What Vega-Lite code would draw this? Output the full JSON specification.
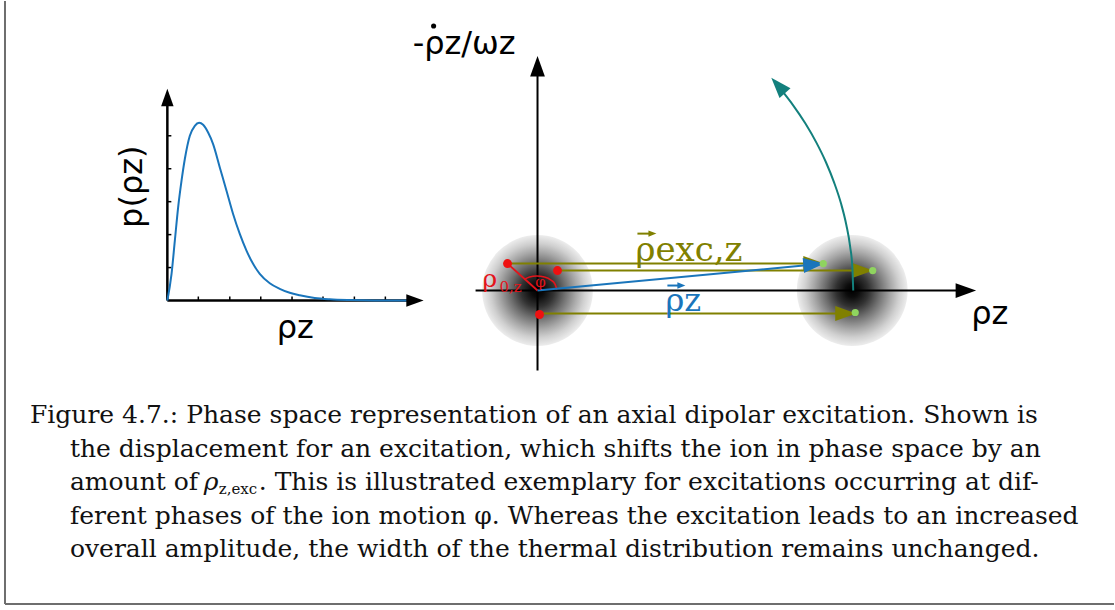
{
  "$schema": "https://vega.github.io/schema/vega-lite/v6.json",
  "width": 1115,
  "height": 610,
  "padding": 0,
  "autosize": {"type": "fit", "contains": "padding"},
  "background": "white",
  "config": {"view": {"stroke": null}},
  "datasets": {
    "segments": [
      {"kind": "frame", "x": 5, "y": 0, "x2": 5, "y2": 604},
      {"kind": "frame", "x": 5, "y": 604, "x2": 1115, "y2": 604},
      {"kind": "axisL", "x": 167.5, "y": 300, "x2": 167.5, "y2": 102},
      {"kind": "axisL", "x": 167.5, "y": 300, "x2": 410, "y2": 300},
      {"kind": "axisR", "x": 538, "y": 370, "x2": 538, "y2": 72},
      {"kind": "axisR", "x": 476, "y": 290, "x2": 960, "y2": 290},
      {"kind": "tick", "x": 167.5, "y": 135, "x2": 171.5, "y2": 135},
      {"kind": "tick", "x": 167.5, "y": 168, "x2": 171.5, "y2": 168},
      {"kind": "tick", "x": 167.5, "y": 201, "x2": 171.5, "y2": 201},
      {"kind": "tick", "x": 167.5, "y": 234, "x2": 171.5, "y2": 234},
      {"kind": "tick", "x": 167.5, "y": 267, "x2": 171.5, "y2": 267},
      {"kind": "tick", "x": 198.5, "y": 296, "x2": 198.5, "y2": 300},
      {"kind": "tick", "x": 230, "y": 296, "x2": 230, "y2": 300},
      {"kind": "tick", "x": 261, "y": 296, "x2": 261, "y2": 300},
      {"kind": "tick", "x": 292.3, "y": 296, "x2": 292.3, "y2": 300},
      {"kind": "tick", "x": 323.3, "y": 296, "x2": 323.3, "y2": 300},
      {"kind": "tick", "x": 354.7, "y": 296, "x2": 354.7, "y2": 300},
      {"kind": "tick", "x": 385.7, "y": 296, "x2": 385.7, "y2": 300},
      {"kind": "olive", "x": 508, "y": 263, "x2": 812, "y2": 263},
      {"kind": "olive", "x": 558, "y": 270, "x2": 862, "y2": 270},
      {"kind": "olive", "x": 540, "y": 313, "x2": 845, "y2": 313},
      {"kind": "oliveVec", "x": 638, "y": 233, "x2": 652, "y2": 233},
      {"kind": "blue", "x": 538, "y": 290, "x2": 812, "y2": 264.3},
      {"kind": "blueVec", "x": 668, "y": 285, "x2": 681, "y2": 285},
      {"kind": "red", "x": 538, "y": 290, "x2": 508, "y2": 263}
    ],
    "heads": [
      {"kind": "axisL", "x": 167.5, "y": 88, "heading": 0},
      {"kind": "axisL", "x": 424, "y": 300, "heading": 90},
      {"kind": "axisR", "x": 538, "y": 55, "heading": 0},
      {"kind": "axisR", "x": 977, "y": 290, "heading": 90},
      {"kind": "olive", "x": 825, "y": 263, "heading": 90},
      {"kind": "olive", "x": 874, "y": 270, "heading": 90},
      {"kind": "olive", "x": 857, "y": 313, "heading": 90},
      {"kind": "oliveVec", "x": 657, "y": 233, "heading": 90},
      {"kind": "blue", "x": 825, "y": 263, "heading": 84.6},
      {"kind": "blueVec", "x": 686, "y": 285, "heading": 90},
      {"kind": "teal", "x": 772, "y": 77, "heading": -42}
    ],
    "curve": [
      {"x": 167.5, "y": 300}, {"x": 171.7, "y": 273.3}, {"x": 175, "y": 240},
      {"x": 178.3, "y": 206.7}, {"x": 181.7, "y": 180}, {"x": 185, "y": 158.3},
      {"x": 190, "y": 135}, {"x": 195, "y": 125}, {"x": 199.3, "y": 122},
      {"x": 203.3, "y": 124}, {"x": 208.3, "y": 131.7}, {"x": 213.3, "y": 143.3},
      {"x": 220, "y": 166.7}, {"x": 226.7, "y": 190}, {"x": 233.3, "y": 213.3},
      {"x": 240, "y": 233.3}, {"x": 246.7, "y": 250}, {"x": 253.3, "y": 263.3},
      {"x": 260, "y": 273.3}, {"x": 270, "y": 282.7}, {"x": 280, "y": 288.3},
      {"x": 290, "y": 292.3}, {"x": 300, "y": 294.8}, {"x": 315, "y": 297.5},
      {"x": 330, "y": 298.8}, {"x": 350, "y": 299.6}, {"x": 375, "y": 300},
      {"x": 408, "y": 300}
    ],
    "arcs": [
      {"kind": "teal", "i": 0, "x": 854, "y": 290},
      {"kind": "teal", "i": 1, "x": 853.2, "y": 268},
      {"kind": "teal", "i": 2, "x": 850.9, "y": 246},
      {"kind": "teal", "i": 3, "x": 847.1, "y": 224.3},
      {"kind": "teal", "i": 4, "x": 841.8, "y": 202.9},
      {"kind": "teal", "i": 5, "x": 834.9, "y": 181.9},
      {"kind": "teal", "i": 6, "x": 826.7, "y": 161.5},
      {"kind": "teal", "i": 7, "x": 817, "y": 141.6},
      {"kind": "teal", "i": 8, "x": 806, "y": 122.5},
      {"kind": "teal", "i": 9, "x": 793.7, "y": 104.3},
      {"kind": "teal", "i": 10, "x": 783.6, "y": 91.1},
      {"kind": "phi", "i": 0, "x": 524.5, "y": 279},
      {"kind": "phi", "i": 1, "x": 530, "y": 276.5},
      {"kind": "phi", "i": 2, "x": 537, "y": 275.5},
      {"kind": "phi", "i": 3, "x": 545, "y": 276.5},
      {"kind": "phi", "i": 4, "x": 551.5, "y": 279.5},
      {"kind": "phi", "i": 5, "x": 555.5, "y": 283.5},
      {"kind": "phi", "i": 6, "x": 557.5, "y": 289}
    ],
    "blobs": [{"x": 538, "y": 290}, {"x": 853, "y": 290}],
    "dots": [
      {"kind": "start", "x": 508, "y": 263},
      {"kind": "start", "x": 558, "y": 270},
      {"kind": "start", "x": 540, "y": 314},
      {"kind": "end", "x": 824, "y": 263},
      {"kind": "end", "x": 873.5, "y": 270},
      {"kind": "end", "x": 856, "y": 312},
      {"kind": "dotAbove", "x": 434, "y": 25}
    ],
    "labels": [
      {"kind": "black", "x": 413, "y": 53, "text": "-ρz/ωz"},
      {"kind": "black", "x": 277, "y": 338, "text": "ρz"},
      {"kind": "black", "x": 972, "y": 324, "text": "ρz"},
      {"kind": "rotated", "x": 142, "y": 186, "text": "p(ρz)"},
      {"kind": "olive", "x": 636, "y": 260, "text": "ρexc,z"},
      {"kind": "blue", "x": 666, "y": 311, "text": "ρz"},
      {"kind": "red", "x": 483, "y": 286, "text": "ρ"},
      {"kind": "redSub", "x": 500, "y": 291, "text": "0,z"},
      {"kind": "redPhi", "x": 541, "y": 286, "text": "φ"}
    ],
    "caption": [
      {"kind": "roman", "x": 30, "y": 423, "text": "Figure 4.7.: Phase space representation of an axial dipolar excitation.  Shown is"},
      {"kind": "roman", "x": 70, "y": 456.5, "text": "the displacement for an excitation, which shifts the ion in phase space by an"},
      {"kind": "roman", "x": 70, "y": 490, "text": "amount of"},
      {"kind": "italic", "x": 204, "y": 490, "text": "ρ"},
      {"kind": "sub", "x": 219, "y": 494, "text": "z,exc"},
      {"kind": "roman", "x": 259, "y": 490, "text": ". This is illustrated exemplary for excitations occurring at dif-"},
      {"kind": "roman", "x": 70, "y": 523.5, "text": "ferent phases of the ion motion φ. Whereas the excitation leads to an increased"},
      {"kind": "roman", "x": 70, "y": 557, "text": "overall amplitude, the width of the thermal distribution remains unchanged."}
    ]
  },
  "encoding": {
    "x": {"field": "x", "type": "quantitative", "axis": null,
          "scale": {"domain": [0, 1115], "nice": false, "zero": false}},
    "y": {"field": "y", "type": "quantitative", "axis": null,
          "scale": {"domain": [0, 610], "nice": false, "zero": false, "reverse": true}}
  },
  "layer": [
    {
      "data": {"name": "blobs"},
      "mark": {
        "type": "point", "shape": "circle", "size": 12272, "filled": true, "opacity": 1, "strokeWidth": 0,
        "fill": {
          "gradient": "radial", "x1": 0.5, "y1": 0.5, "r1": 0, "x2": 0.5, "y2": 0.5, "r2": 0.5,
          "stops": [
            {"offset": 0, "color": "#000000"},
            {"offset": 0.12, "color": "#0c0c0c"},
            {"offset": 0.3, "color": "#333333"},
            {"offset": 0.5, "color": "#707070"},
            {"offset": 0.7, "color": "#a9a9a9"},
            {"offset": 0.85, "color": "#d0d0d0"},
            {"offset": 1, "color": "#ededed"}
          ]
        }
      }
    },
    {
      "data": {"name": "segments"},
      "transform": [{"filter": "datum.kind === 'frame'"}],
      "mark": {"type": "rule", "color": "#6e6e6e", "strokeWidth": 2},
      "encoding": {"x2": {"field": "x2"}, "y2": {"field": "y2"}}
    },
    {
      "data": {"name": "segments"},
      "transform": [{"filter": "datum.kind === 'axisL'"}],
      "mark": {"type": "rule", "color": "#000000", "strokeWidth": 2.5},
      "encoding": {"x2": {"field": "x2"}, "y2": {"field": "y2"}}
    },
    {
      "data": {"name": "segments"},
      "transform": [{"filter": "datum.kind === 'tick'"}],
      "mark": {"type": "rule", "color": "#000000", "strokeWidth": 1.5},
      "encoding": {"x2": {"field": "x2"}, "y2": {"field": "y2"}}
    },
    {
      "data": {"name": "segments"},
      "transform": [{"filter": "datum.kind === 'axisR'"}],
      "mark": {"type": "rule", "color": "#000000", "strokeWidth": 2},
      "encoding": {"x2": {"field": "x2"}, "y2": {"field": "y2"}}
    },
    {
      "data": {"name": "curve"},
      "mark": {"type": "line", "color": "#1a75bb", "strokeWidth": 2, "interpolate": "monotone"},
      "encoding": {}
    },
    {
      "data": {"name": "heads"},
      "transform": [{"filter": "datum.kind === 'axisL'"}],
      "mark": {"type": "point", "shape": "M0,0L0.72,2L-0.72,2Z", "size": 300, "filled": true, "opacity": 1, "color": "#000000", "strokeWidth": 0},
      "encoding": {"angle": {"field": "heading", "type": "quantitative", "scale": null}}
    },
    {
      "data": {"name": "heads"},
      "transform": [{"filter": "datum.kind === 'axisR'"}],
      "mark": {"type": "point", "shape": "M0,0L0.72,2L-0.72,2Z", "size": 420, "filled": true, "opacity": 1, "color": "#000000", "strokeWidth": 0},
      "encoding": {"angle": {"field": "heading", "type": "quantitative", "scale": null}}
    },
    {
      "data": {"name": "segments"},
      "transform": [{"filter": "datum.kind === 'red'"}],
      "mark": {"type": "rule", "color": "#e3141b", "strokeWidth": 1.8},
      "encoding": {"x2": {"field": "x2"}, "y2": {"field": "y2"}}
    },
    {
      "data": {"name": "arcs"},
      "transform": [{"filter": "datum.kind === 'phi'"}],
      "mark": {"type": "line", "color": "#e3141b", "strokeWidth": 1.6, "interpolate": "monotone"},
      "encoding": {"order": {"field": "i", "type": "quantitative"}}
    },
    {
      "data": {"name": "segments"},
      "transform": [{"filter": "datum.kind === 'olive' || datum.kind === 'oliveVec'"}],
      "mark": {"type": "rule", "color": "#808000", "strokeWidth": 2},
      "encoding": {"x2": {"field": "x2"}, "y2": {"field": "y2"}}
    },
    {
      "data": {"name": "heads"},
      "transform": [{"filter": "datum.kind === 'olive'"}],
      "mark": {"type": "point", "shape": "M0,0L0.72,2L-0.72,2Z", "size": 440, "filled": true, "opacity": 1, "color": "#808000", "strokeWidth": 0},
      "encoding": {"angle": {"field": "heading", "type": "quantitative", "scale": null}}
    },
    {
      "data": {"name": "heads"},
      "transform": [{"filter": "datum.kind === 'oliveVec'"}],
      "mark": {"type": "point", "shape": "M0,0L0.8,2L-0.8,2Z", "size": 64, "filled": true, "opacity": 1, "color": "#808000", "strokeWidth": 0},
      "encoding": {"angle": {"field": "heading", "type": "quantitative", "scale": null}}
    },
    {
      "data": {"name": "segments"},
      "transform": [{"filter": "datum.kind === 'blue' || datum.kind === 'blueVec'"}],
      "mark": {"type": "rule", "color": "#1a75bb", "strokeWidth": 2},
      "encoding": {"x2": {"field": "x2"}, "y2": {"field": "y2"}}
    },
    {
      "data": {"name": "heads"},
      "transform": [{"filter": "datum.kind === 'blue'"}],
      "mark": {"type": "point", "shape": "M0,0L0.72,2L-0.72,2Z", "size": 440, "filled": true, "opacity": 1, "color": "#1a75bb", "strokeWidth": 0},
      "encoding": {"angle": {"field": "heading", "type": "quantitative", "scale": null}}
    },
    {
      "data": {"name": "heads"},
      "transform": [{"filter": "datum.kind === 'blueVec'"}],
      "mark": {"type": "point", "shape": "M0,0L0.8,2L-0.8,2Z", "size": 64, "filled": true, "opacity": 1, "color": "#1a75bb", "strokeWidth": 0},
      "encoding": {"angle": {"field": "heading", "type": "quantitative", "scale": null}}
    },
    {
      "data": {"name": "arcs"},
      "transform": [{"filter": "datum.kind === 'teal'"}],
      "mark": {"type": "line", "color": "#13807d", "strokeWidth": 2, "interpolate": "monotone"},
      "encoding": {"order": {"field": "i", "type": "quantitative"}}
    },
    {
      "data": {"name": "heads"},
      "transform": [{"filter": "datum.kind === 'teal'"}],
      "mark": {"type": "point", "shape": "M0,0L0.72,2L-0.72,2Z", "size": 420, "filled": true, "opacity": 1, "color": "#13807d", "strokeWidth": 0},
      "encoding": {"angle": {"field": "heading", "type": "quantitative", "scale": null}}
    },
    {
      "data": {"name": "dots"},
      "transform": [{"filter": "datum.kind === 'start'"}],
      "mark": {"type": "point", "shape": "circle", "size": 80, "filled": true, "opacity": 1, "color": "#ee1111", "strokeWidth": 0}
    },
    {
      "data": {"name": "dots"},
      "transform": [{"filter": "datum.kind === 'end'"}],
      "mark": {"type": "point", "shape": "circle", "size": 52, "filled": true, "opacity": 1, "color": "#8fd45f", "strokeWidth": 0}
    },
    {
      "data": {"name": "dots"},
      "transform": [{"filter": "datum.kind === 'dotAbove'"}],
      "mark": {"type": "point", "shape": "circle", "size": 26, "filled": true, "opacity": 1, "color": "#000000", "strokeWidth": 0}
    },
    {
      "data": {"name": "labels"},
      "transform": [{"filter": "datum.kind === 'black'"}],
      "mark": {"type": "text", "font": "DejaVu Sans", "fontSize": 32, "align": "left", "baseline": "alphabetic", "color": "#000000"},
      "encoding": {"text": {"field": "text", "type": "nominal"}}
    },
    {
      "data": {"name": "labels"},
      "transform": [{"filter": "datum.kind === 'rotated'"}],
      "mark": {"type": "text", "font": "DejaVu Sans", "fontSize": 32, "align": "center", "baseline": "alphabetic", "angle": 270, "color": "#000000"},
      "encoding": {"text": {"field": "text", "type": "nominal"}}
    },
    {
      "data": {"name": "labels"},
      "transform": [{"filter": "datum.kind === 'olive'"}],
      "mark": {"type": "text", "font": "DejaVu Serif", "fontSize": 34, "align": "left", "baseline": "alphabetic", "color": "#808000"},
      "encoding": {"text": {"field": "text", "type": "nominal"}}
    },
    {
      "data": {"name": "labels"},
      "transform": [{"filter": "datum.kind === 'blue'"}],
      "mark": {"type": "text", "font": "DejaVu Serif", "fontSize": 32, "align": "left", "baseline": "alphabetic", "color": "#1a75bb"},
      "encoding": {"text": {"field": "text", "type": "nominal"}}
    },
    {
      "data": {"name": "labels"},
      "transform": [{"filter": "datum.kind === 'red'"}],
      "mark": {"type": "text", "font": "DejaVu Serif", "fontSize": 25, "align": "left", "baseline": "alphabetic", "color": "#e3141b"},
      "encoding": {"text": {"field": "text", "type": "nominal"}}
    },
    {
      "data": {"name": "labels"},
      "transform": [{"filter": "datum.kind === 'redSub'"}],
      "mark": {"type": "text", "font": "DejaVu Serif", "fontSize": 15, "align": "left", "baseline": "alphabetic", "color": "#e3141b"},
      "encoding": {"text": {"field": "text", "type": "nominal"}}
    },
    {
      "data": {"name": "labels"},
      "transform": [{"filter": "datum.kind === 'redPhi'"}],
      "mark": {"type": "text", "font": "DejaVu Serif", "fontSize": 15, "align": "center", "baseline": "alphabetic", "color": "#e3141b"},
      "encoding": {"text": {"field": "text", "type": "nominal"}}
    },
    {
      "data": {"name": "caption"},
      "transform": [{"filter": "datum.kind === 'roman'"}],
      "mark": {"type": "text", "font": "DejaVu Serif", "fontSize": 25, "align": "left", "baseline": "alphabetic", "color": "#111111"},
      "encoding": {"text": {"field": "text", "type": "nominal"}}
    },
    {
      "data": {"name": "caption"},
      "transform": [{"filter": "datum.kind === 'italic'"}],
      "mark": {"type": "text", "font": "DejaVu Serif", "fontStyle": "italic", "fontSize": 25, "align": "left", "baseline": "alphabetic", "color": "#111111"},
      "encoding": {"text": {"field": "text", "type": "nominal"}}
    },
    {
      "data": {"name": "caption"},
      "transform": [{"filter": "datum.kind === 'sub'"}],
      "mark": {"type": "text", "font": "DejaVu Serif", "fontSize": 15, "align": "left", "baseline": "alphabetic", "color": "#111111"},
      "encoding": {"text": {"field": "text", "type": "nominal"}}
    }
  ]
}
